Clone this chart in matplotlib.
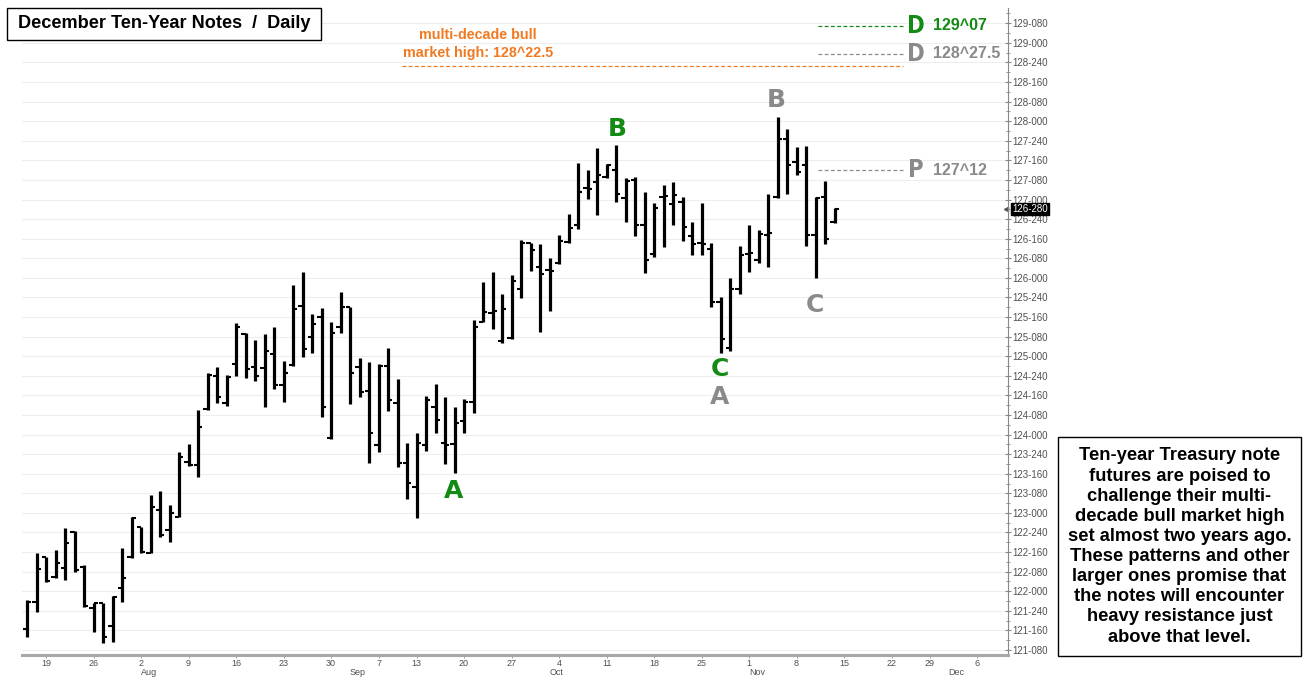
import matplotlib
matplotlib.use("Agg")
import matplotlib.pyplot as plt
import numpy as np
import pandas as pd
from matplotlib.patches import Rectangle
from matplotlib.ticker import MultipleLocator, FuncFormatter
import matplotlib.transforms as mtransforms

plt.rcParams['font.family'] = ['Liberation Sans', 'DejaVu Sans']

# ---------------- data ----------------
first_day = "2010-07-15"
last_axis_day = "2010-12-10"
holidays = ["2010-09-06", "2010-11-25"]

opens = [121.518, 121.863, 122.437, 122.182, 122.297, 122.756, 122.310, 121.786, 121.850, 121.556,
         122.041, 122.437, 122.820, 122.488, 123.037, 122.782, 122.947, 123.649, 123.611, 124.326,
         124.747, 124.402, 124.900, 125.283, 124.862, 124.849, 125.028, 124.632, 124.887, 125.640,
         125.245, 125.500, 123.956, 125.372, 125.628, 124.862, 124.556, 123.866, 124.875, 124.402,
         123.637, 123.330, 123.866, 124.351, 123.892, 123.879, 124.173, 124.415, 125.436, 125.551,
         125.194, 125.232, 125.857, 126.445, 126.138, 126.100, 126.189, 126.457, 126.674, 127.147,
         127.223, 127.287, 127.376, 127.019, 127.249, 126.674, 126.304, 127.032, 126.942, 126.968,
         126.534, 126.445, 126.368, 125.692, 125.104, 125.857, 126.304, 126.228, 126.547, 127.032,
         127.772, 127.478, 127.440, 126.547, 127.032, 126.713]
highs = [121.888, 122.488, 122.437, 122.526, 122.807, 122.769, 122.335, 121.850, 121.850, 121.939,
         122.552, 122.947, 122.820, 123.228, 123.279, 123.101, 123.777, 123.879, 124.313, 124.785,
         124.862, 124.760, 125.424, 125.296, 125.207, 125.283, 125.372, 124.939, 125.908, 126.074,
         125.538, 125.615, 125.436, 125.819, 125.628, 124.977, 124.926, 124.900, 125.104, 124.709,
         123.892, 124.020, 124.492, 124.645, 124.479, 124.351, 124.453, 125.462, 125.947, 126.074,
         125.794, 126.036, 126.483, 126.445, 126.432, 126.253, 126.547, 126.815, 127.466, 127.376,
         127.657, 127.453, 127.695, 127.274, 127.287, 127.096, 126.955, 127.185, 127.223, 127.032,
         126.713, 126.955, 126.445, 125.755, 125.998, 126.406, 126.674, 126.610, 127.070, 128.053,
         127.900, 127.670, 127.683, 127.032, 127.236, 126.891]
lows = [121.416, 121.735, 122.118, 122.169, 122.143, 122.246, 121.799, 121.480, 121.339, 121.352,
        121.863, 122.424, 122.488, 122.488, 122.692, 122.628, 122.947, 123.598, 123.458, 124.313,
        124.402, 124.364, 124.747, 124.722, 124.683, 124.351, 124.581, 124.415, 124.875, 124.990,
        125.041, 124.224, 123.943, 125.296, 124.390, 124.479, 123.637, 123.777, 124.300, 123.586,
        123.177, 122.935, 123.790, 124.020, 123.624, 123.509, 124.020, 124.275, 125.436, 125.347,
        125.168, 125.219, 125.743, 126.087, 125.309, 125.577, 126.177, 126.445, 126.623, 127.006,
        126.802, 127.274, 126.968, 126.713, 126.534, 126.062, 126.266, 126.394, 126.674, 126.470,
        126.291, 126.291, 125.628, 125.041, 125.066, 125.794, 126.074, 126.189, 126.138, 127.019,
        127.070, 127.313, 126.406, 125.998, 126.432, 126.700]
closes = [121.863, 122.284, 122.131, 122.360, 122.616, 122.271, 121.812, 121.850, 121.416, 121.926,
          122.169, 122.935, 122.501, 123.075, 122.718, 122.999, 123.713, 123.611, 124.096, 124.760,
          124.479, 124.734, 125.372, 124.836, 124.747, 125.066, 124.632, 124.785, 125.602, 125.092,
          125.411, 124.351, 125.296, 125.628, 124.785, 124.543, 124.020, 124.875, 124.441, 123.637,
          123.381, 123.892, 124.441, 124.185, 123.866, 124.147, 124.415, 125.372, 125.564, 125.577,
          125.602, 125.960, 126.445, 126.355, 126.049, 126.087, 126.470, 126.636, 127.096, 127.134,
          127.313, 127.440, 127.070, 127.236, 126.674, 126.228, 126.891, 127.044, 127.057, 126.649,
          126.432, 126.432, 125.692, 125.219, 125.857, 126.291, 126.317, 126.559, 126.572, 127.772,
          127.440, 127.351, 126.547, 127.019, 126.496, 126.879]

# reference levels (price, label letter, value text, colour)
level_prices = [129.21875, 128.859375, 127.375]
level_letters = ["D", "D", "P"]
level_texts = ["129^07", "128^27.5", "127^12"]
level_colors = ["#138a13", "#8a8a8a", "#8a8a8a"]
bull_high = 128.703125
bull_high_text = "multi-decade bull\nmarket high: 128^22.5"

# wave labels: (bar index, price, letter, colour)
wave_idx = [44.9, 62.1, 72.9, 72.9, 78.9, 82.9]
wave_price = [123.28, 127.90, 124.84, 124.48, 128.27, 125.66]
wave_text = ["A", "B", "C", "A", "B", "C"]
wave_color = ["#138a13", "#138a13", "#138a13", "#8a8a8a", "#8a8a8a", "#8a8a8a"]

title = "December Ten-Year Notes  /  Daily"
note = ("Ten-year Treasury note\nfutures are poised to\nchallenge their multi-\n"
        "decade bull market high\nset almost two years ago.\nThese patterns and other\n"
        "larger ones promise that\nthe notes will encounter\nheavy resistance just\n"
        "above that level.")

# ---------------- dates ----------------
days = pd.bdate_range(first_day, last_axis_day)
days = days[~days.isin(pd.to_datetime(holidays))]
n = len(closes)
xi = np.arange(n)

W, H = 1311, 681
fig = plt.figure(figsize=(W / 100, H / 100), dpi=100)
ax = fig.add_axes([22 / W, (H - 655) / H, (1008 - 22) / W, (655 - 8) / H])
ax.set_xlim(-0.53, 103.26)
ax.set_ylim(121.186, 129.445)

# OHLC bars
ax.vlines(xi, lows, highs, color="black", lw=2.3, zorder=3)
ax.hlines(opens, xi - 0.45, xi, color="black", lw=1.5, zorder=3)
ax.hlines(closes, xi, xi + 0.45, color="black", lw=1.5, zorder=3)

# y axis on right, 32nds format
def fmt32(v, pos):
    whole = int(np.floor(v + 1e-9))
    frac = int(round((v - whole) * 320))
    return f"{whole}-{frac:03d}"

ax.yaxis.tick_right()
ax.yaxis.set_major_locator(MultipleLocator(0.25))
ax.yaxis.set_minor_locator(MultipleLocator(0.125))
ax.yaxis.set_major_formatter(FuncFormatter(fmt32))
ax.tick_params(axis="y", which="major", direction="inout", length=4, width=0.8,
               color="#888888", labelsize=7, labelcolor="#505050", pad=1)
ax.tick_params(axis="y", which="minor", direction="inout", length=2.5, width=0.6, color="#888888")
ax.grid(axis="y", which="major", color="#eeeeee", lw=0.8, zorder=0)

for s in ["top", "left"]:
    ax.spines[s].set_visible(False)
ax.spines["right"].set_color("#888888")
ax.spines["right"].set_linewidth(0.8)
ax.spines["bottom"].set_color("#a8a8a8")
ax.spines["bottom"].set_linewidth(2.2)

# x ticks at first trading day of each week, month labels at first trading day of month
ser = pd.Series(np.arange(len(days)), index=days)
week_key = days.to_period("W")
week_first = ser.groupby(week_key).first().values
week_first = [k for k in week_first if days[k] >= pd.Timestamp("2010-07-19")]
ax.set_xticks(week_first)
ax.set_xticklabels([str(days[k].day) for k in week_first])
ax.tick_params(axis="x", length=2, width=0.7, color="#999999", labelsize=6.5,
               labelcolor="#505050", pad=0.8)
month_first = ser.groupby(days.to_period("M")).first().values
trans = mtransforms.blended_transform_factory(ax.transData, ax.transAxes)
for k in month_first:
    if days[k] >= pd.Timestamp("2010-08-01"):
        ax.text(k, -0.0195, days[k].strftime("%b"), transform=trans, ha="left", va="top",
                fontsize=6.5, color="#505050")

# current price tag
last = closes[-1]
ax.annotate(fmt32(round(last * 32) / 32, 0), xy=(1, last), xycoords=("axes fraction", "data"),
            xytext=(3, 0), textcoords="offset points", ha="left", va="center",
            fontsize=7, color="white", annotation_clip=False,
            bbox=dict(boxstyle="square,pad=0.12", fc="black", ec="black"))
ax.plot([n + 17.0], [last], marker="<", ms=3, color="#555555", clip_on=False)

# reference levels
ax.hlines(bull_high, 39.5, 92.2, colors="#f07a22", linestyles=(0, (3, 2)), lw=0.9)
for p, let, txt, c in zip(level_prices, level_letters, level_texts, level_colors):
    ax.hlines(p, 83.3, 92.2, colors=c, linestyles=(0, (3, 2)), lw=0.9)
    ax.text(93.6, p, let, ha="center", va="center", fontsize=17, fontweight="heavy",
            color=c, family="DejaVu Sans", fontstretch="condensed")
    ax.text(95.4, p, txt, ha="left", va="center", fontsize=11.5, fontweight="bold", color=c)

fig.text(478 / W, 1 - 44 / H, bull_high_text, ha="center", va="center", fontsize=10.3,
         fontweight="bold", color="#f07a22", linespacing=1.32)

# wave labels
for i, p, t, c in zip(wave_idx, wave_price, wave_text, wave_color):
    ax.text(i, p, t, ha="center", va="center", fontsize=18, fontweight="heavy", color=c,
            family="DejaVu Sans")

# title box
fig.patches.append(Rectangle((7 / W, 1 - 40 / H), (321 - 7) / W, 32 / H, transform=fig.transFigure,
                             fc="white", ec="black", lw=1.0, zorder=5))
fig.text(164 / W, 1 - 24 / H, title, ha="center", va="center", fontsize=13.1,
         fontweight="bold", color="black", zorder=6)

# note box
fig.patches.append(Rectangle((1058 / W, 1 - 656 / H), (1301 - 1058) / W, (656 - 437) / H,
                             transform=fig.transFigure, fc="white", ec="black", lw=1.0, zorder=5))
fig.text(1179.5 / W, 1 - 546.5 / H, note, ha="center", va="center", fontsize=13.2,
         fontweight="bold", color="black", linespacing=1.24, zorder=6)

fig.savefig("out.png", dpi=100)
